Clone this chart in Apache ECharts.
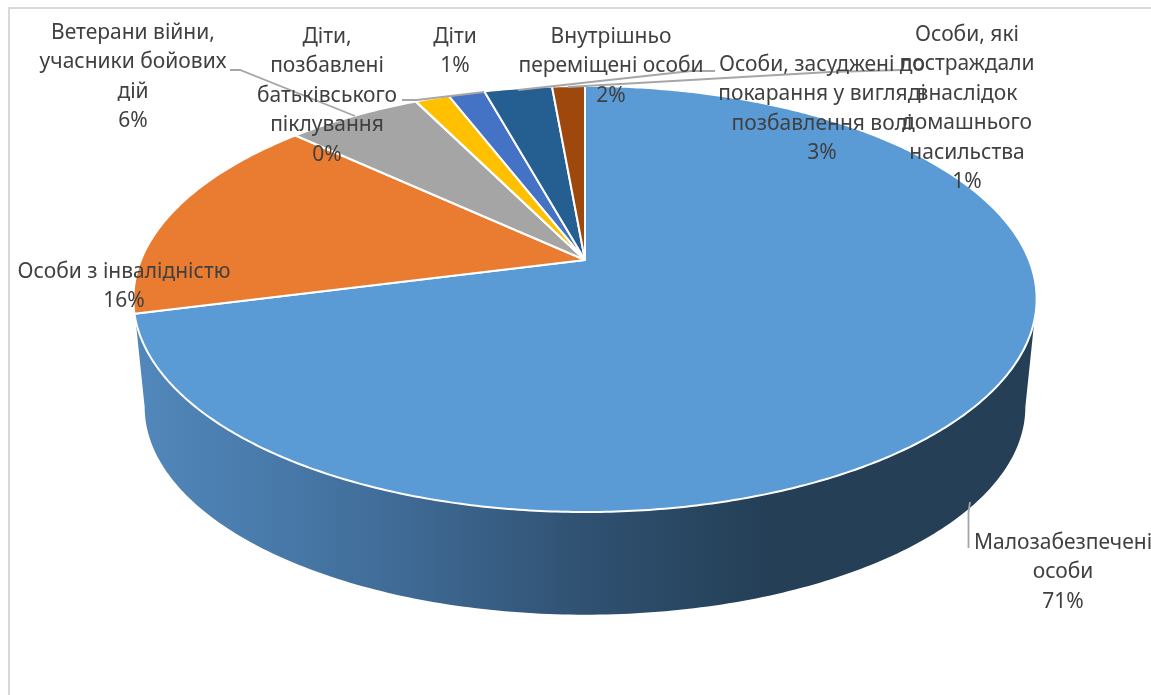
<!DOCTYPE html>
<html><head><meta charset="utf-8">
<style>html,body{margin:0;padding:0;background:#fff;overflow:hidden}#c{width:1151px;height:695px}</style>
<script src="https://cdn.jsdelivr.net/npm/echarts@6/dist/echarts.min.js"></script>
</head><body><div id="c"></div>
<script>
const categories = ['Малозабезпечені\nособи','Особи з інвалідністю','Ветерани війни,\nучасники бойових\nдій','Діти,\nпозбавлені\nбатьківського\nпіклування','Діти','Внутрішньо\nпереміщені особи','Особи, засуджені до\nпокарання у вигляді\nпозбавлення волі','Особи, які\nпостраждали\nвнаслідок\nдомашнього\nнасильства'];
const values = [71.0, 15.9, 5.78, 0.02, 1.45, 1.55, 2.9, 1.4];
const colors = ['#5B9BD5','#E97C30','#A5A5A5','#FFC000','#FFC000','#4472C4','#255E91','#9E480E'];
// label placement: centre x, first-line centre y
const labelAt = [[1063,543],[124,272],[133,33],[327,37],[455,37],[611,37],[822,65],[967,35]];
const leaders = [
  [[968.5,548],[968.5,512],[970,502]],
  [],
  [[230,70],[240,70],[355,116]],
  [[402,100],[417,100],[484,92]],
  [],
  [[715,71],[691,71],[518,90]],
  [[900,70],[830,72],[568,87]],
  []
];
const total = values.reduce((a,b)=>a+b,0);
const CX=585, CY=260, A=444, H=205.9, P=0.183, WALL_S=0.975, WALL_DY=108, MID_Y=299;
function rim(t){ const u=Math.sin(t), v=Math.cos(t), w=1+P*v; return [CX+A*u/w, CY-H*v/w]; }
function low(t){ const p=rim(t); return [CX+WALL_S*(p[0]-CX), MID_Y+WALL_DY+WALL_S*(p[1]-MID_Y)]; }
function frac(i){ let s=0; for(let k=0;k<i;k++) s+=values[k]; return s/total; }

function renderWall(){
  const t0=Math.acos(-P), t1=2*Math.PI-t0, n=200, pts=[rim(t0)];
  for(let k=0;k<=n;k++) pts.push(low(t0+(t1-t0)*k/n));
  pts.push(rim(t1));
  return {type:'polygon',shape:{points:pts},style:{
    fill:new echarts.graphic.LinearGradient(140,0,770,0,[
      {offset:0,color:'#5287BB'},{offset:0.25,color:'#4677A6'},{offset:0.42,color:'#3F6A95'},
      {offset:0.72,color:'#2F5070'},{offset:1,color:'#243F56'}],true)}};
}
function renderSlice(params,api){
  const i=params.dataIndex, a=frac(i)*2*Math.PI, b=(frac(i)+api.value(0)/total)*2*Math.PI;
  const pts=[[CX,CY]], n=Math.max(2,Math.ceil((b-a)/0.01));
  for(let k=0;k<=n;k++) pts.push(rim(a+(b-a)*k/n));
  return {type:'polygon',shape:{points:pts},style:{fill:colors[i],stroke:'#fff',lineWidth:2,lineJoin:'round'}};
}
function renderLabel(params,api){
  const i=params.dataIndex, at=labelAt[i], children=[];
  if(leaders[i].length) children.push({type:'polyline',shape:{points:leaders[i]},style:{fill:'none',stroke:'#A6A6A6',lineWidth:1.8}});
  children.push({type:'text',x:at[0],y:at[1]-14.7,style:{
    text:categories[i]+'\n'+Math.round(api.value(0)/total*100)+'%',
    fill:'#404040',font:'21px "Noto Sans"',lineHeight:29.4,align:'center',verticalAlign:'top'}});
  return {type:'group',children};
}
const chart=echarts.init(document.getElementById('c'),null,{renderer:'canvas'});
chart.setOption({
  animation:false, backgroundColor:'#fff',
  graphic:[{type:'polyline',shape:{points:[[9,695],[9,8],[1151,8]]},style:{fill:'none',stroke:'#D9D9D9',lineWidth:2}}],
  series:[
    {type:'custom',coordinateSystem:'none',data:[0],renderItem:renderWall,silent:true,z:1},
    {type:'custom',coordinateSystem:'none',data:values,renderItem:renderSlice,silent:true,z:2},
    {type:'custom',coordinateSystem:'none',data:values,renderItem:renderLabel,silent:true,z:3,clip:false}
  ]
});
</script></body></html>
